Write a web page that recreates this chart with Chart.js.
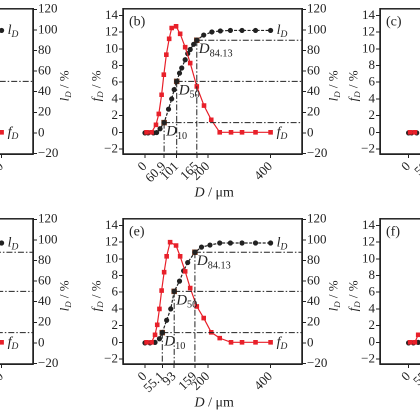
<!DOCTYPE html>
<html>
<head>
<meta charset="UTF-8" />
<script src="https://cdn.jsdelivr.net/npm/chart.js"></script>
<style>
  body { margin: 0; background: #fff; width: 420px; height: 420px; overflow: hidden; position: relative; }
  canvas { position: absolute; }
</style>
</head>
<body>
<script>
// panel (b)
const bFx = [5, 21, 35, 44, 53, 60, 68, 77, 85, 99, 112, 128, 144, 165, 188, 211, 238, 274, 309, 352, 400];
const bFy = [0, 0, 0.9, 2.2, 4.5, 6.9, 9.3, 11.2, 12.5, 12.7, 11.8, 10.2, 8.3, 5.5, 3.2, 1.5, 0, 0, 0, 0, 0];
const bLx = [0, 10, 27, 37, 48, 61, 75, 85, 93, 101, 110, 117, 128, 136, 144, 155, 165, 187, 213, 240, 272, 309, 352, 400];
const bLy = [0, 0, 0, 0.3, 4, 10, 23, 33, 42, 50, 58, 63, 71, 77, 81, 86, 90, 95, 98, 99, 99.5, 99.5, 99.5, 99.5];
const bMarkD = [60.9, 101, 165];
const bMarkL = [10, 50, 90];
const bTicks = [0, 60.9, 101, 165, 200, 400];

// panel (e)
const eFx = [5, 21, 32, 39, 46, 53, 61, 69, 80, 99, 112, 128, 144, 165, 187, 211, 238, 274, 309, 352, 400];
const eFy = [0, 0, 0.9, 2.1, 4, 6.2, 8.4, 10.3, 12, 11.6, 10.3, 8.5, 6.5, 4.3, 2.9, 1.2, 0.5, 0, 0, 0, 0];
const eLx = [0, 16, 32, 46, 55.1, 69, 82, 93, 110, 123, 136, 159, 180, 207, 238, 272, 309, 352, 400];
const eLy = [0, 0, 0.5, 4, 10, 22, 33, 50, 60, 70, 78, 88, 93, 95, 97, 97, 97, 97, 97];
const eMarkD = [55.1, 93, 159];
const eMarkL = [10, 50, 88];
const eTicks = [0, 55.1, 93, 159, 200, 400];

// partly visible panels
const cTicks = [0, 59];
const fTicks = [0, 55];
const yTicks = [-2, 0, 2, 4, 6, 8, 10, 12, 14];
const yRTicks = [-20, 0, 20, 40, 60, 80, 100, 120];

const LW = 45, RW = 50, TP = 8, FW = 179, FH = 146, BH = 56;
const SERIF = "'Liberation Serif', 'DejaVu Serif', serif";

function sub(ctx, x, y, main, s, size, italicSub) {
  ctx.font = 'italic ' + size + 'px ' + SERIF;
  ctx.fillText(main, x, y);
  const w = ctx.measureText(main).width;
  ctx.font = (italicSub ? 'italic ' : '') + (size * 0.68) + 'px ' + SERIF;
  ctx.fillText(s, x + w, y + size * 0.3);
  return w + ctx.measureText(s).width;
}

const textPlugin = {
  id: 'texts',
  afterDraw(chart) {
    const o = chart.options.plugins.texts;
    const ctx = chart.ctx, a = chart.chartArea;
    const x = chart.scales.x, yR = chart.scales.yR;
    ctx.save();
    ctx.strokeStyle = '#222';
    ctx.lineWidth = 1.5;
    ctx.strokeRect(a.left, a.top, a.right - a.left, a.bottom - a.top);
    ctx.fillStyle = '#222';
    ctx.textBaseline = 'middle';
    ctx.font = '14px ' + SERIF;
    ctx.textAlign = 'left';
    ctx.fillText(o.label, a.left + 6, a.top + 13);
    ctx.save();
    ctx.translate(a.left - 26, (a.top + a.bottom) / 2);
    ctx.rotate(-Math.PI / 2);
    const wf = sub(ctx, -20, 0, 'f', 'D', 13, true);
    ctx.font = '13px ' + SERIF;
    ctx.fillText(' / %', -20 + wf, 0);
    ctx.restore();
    ctx.save();
    ctx.translate(a.right + 32, (a.top + a.bottom) / 2);
    ctx.rotate(-Math.PI / 2);
    const wl = sub(ctx, -20, 0, 'l', 'D', 13, true);
    ctx.font = '13px ' + SERIF;
    ctx.fillText(' / %', -20 + wl, 0);
    ctx.restore();
    const cx = (a.left + a.right) / 2 - 18;
    const wd = sub(ctx, cx, a.bottom + 39, 'D', '', 14, true);
    ctx.font = '14px ' + SERIF;
    ctx.fillText(' / \u03bcm', cx + wd, a.bottom + 39);
    if (o.ends) {
      const ex = x.getPixelForValue(o.endX) + 6;
      sub(ctx, ex, yR.getPixelForValue(o.endL), 'l', 'D', 14, true);
      sub(ctx, ex, chart.scales.y.getPixelForValue(0), 'f', 'D', 14, true);
    }
    if (o.marks) {
      const names = ['10', '50', '84.13'];
      o.marks.forEach((d, i) => {
        const px = x.getPixelForValue(d) + 2, py = yR.getPixelForValue(o.markL[i]) + 9;
        sub(ctx, px, py, 'D', names[i], 15, false);
      });
    }
    ctx.restore();
  }
};

function pts(xs, ys) { return xs.map((v, i) => ({ x: v, y: ys[i] })); }

function makePanel(p) {
  const c = document.createElement('canvas');
  c.style.left = (p.left - LW) + 'px';
  c.style.top = (p.top - TP) + 'px';
  c.width = LW + FW + RW;
  c.height = TP + FH + BH;
  document.body.appendChild(c);
  const ds = [];
  const dash = [6, 2, 1.5, 2];
  (p.refD || []).forEach((d, i) => {
    const l = p.refL[i];
    ds.push({ data: [{ x: d, y: l }, { x: p.xmax, y: l }], yAxisID: 'yR', showLine: true, borderColor: '#222', borderWidth: 1, borderDash: dash, pointRadius: 0 });
    ds.push({ data: [{ x: d, y: l }, { x: d, y: -25 }], yAxisID: 'yR', showLine: true, borderColor: '#222', borderWidth: 1, borderDash: dash, pointRadius: 0 });
  });
  ds.push({ data: pts(p.fx, p.fy), yAxisID: 'y', showLine: true, borderColor: '#e8202a', backgroundColor: '#e8202a', borderWidth: 1.2, pointStyle: 'rect', pointRadius: 2.4 });
  ds.push({ data: pts(p.lx, p.ly), yAxisID: 'yR', showLine: true, borderColor: '#222', backgroundColor: '#222', borderWidth: 1.2, borderDash: [3, 1.5], pointRadius: 2 });
  if (p.marks) {
    ds.push({ data: pts(p.marks, p.markL), yAxisID: 'yR', showLine: false, pointStyle: 'rect', pointRadius: 3.2, backgroundColor: '#8bd13a', borderColor: '#7a3a20', borderWidth: 1 });
  }
  const tickFont = { family: SERIF, size: 13 };
  const axisBase = {
    grid: { drawOnChartArea: false, color: '#222', tickLength: 4 },
    border: { color: '#222', width: 1.5 },
    ticks: { color: '#222', font: tickFont, padding: 1, autoSkip: false }
  };
  const minus = v => v < 0 ? '\u2212' + (-v) : String(v);
  new Chart(c, {
    type: 'scatter',
    data: { datasets: ds },
    options: {
      responsive: false,
      devicePixelRatio: 2,
      animation: false,
      layout: { padding: { top: TP, left: 0, right: 0, bottom: 0 } },
      plugins: {
        legend: { display: false }, tooltip: { enabled: false },
        texts: { label: p.label, ends: p.ends, endX: 400, endL: p.ly[p.ly.length - 1], marks: p.marks, markL: p.markL }
      },
      scales: {
        x: Object.assign({}, axisBase, {
          type: 'linear', min: p.xmin, max: p.xmax,
          afterBuildTicks: s => { s.ticks = p.ticks.map(v => ({ value: v })); },
          afterFit: s => { s.height = BH; },
          ticks: Object.assign({}, axisBase.ticks, { minRotation: 45, maxRotation: 45, callback: v => String(v) })
        }),
        y: Object.assign({}, axisBase, {
          position: 'left', min: -2.6, max: 14.8,
          afterBuildTicks: s => { s.ticks = yTicks.map(v => ({ value: v })); },
          afterFit: s => { s.width = LW; },
          ticks: Object.assign({}, axisBase.ticks, { callback: minus })
        }),
        yR: Object.assign({}, axisBase, {
          position: 'right', min: -20.5, max: 120.5,
          afterBuildTicks: s => { s.ticks = yRTicks.map(v => ({ value: v })); },
          afterFit: s => { s.width = RW; },
          ticks: Object.assign({}, axisBase.ticks, { callback: minus })
        })
      }
    },
    plugins: [textPlugin]
  });
}

const rowTops = [8, 218];
makePanel({ label: '(a)', left: 33 - FW, top: rowTops[0], xmin: -70, xmax: 500, ticks: [0, 100, 200, 400], fx: bFx, fy: bFy, lx: bLx, ly: bLy, refD: [101], refL: [50], ends: true });
makePanel({ label: '(b)', left: 123, top: rowTops[0], xmin: -70, xmax: 500, ticks: bTicks, fx: bFx, fy: bFy, lx: bLx, ly: bLy, refD: bMarkD, refL: bMarkL, marks: bMarkD, markL: bMarkL, ends: true });
makePanel({ label: '(c)', left: 380, top: rowTops[0], xmin: -95, xmax: 500, ticks: cTicks, fx: bFx.slice(0, 2), fy: bFy.slice(0, 2), lx: bLx.slice(0, 3), ly: bLy.slice(0, 3), ends: false });
makePanel({ label: '(d)', left: 33 - FW, top: rowTops[1], xmin: -70, xmax: 500, ticks: [0, 100, 200, 400], fx: eFx, fy: eFy, lx: eLx, ly: eLy, refD: eMarkD, refL: eMarkL, ends: true });
makePanel({ label: '(e)', left: 123, top: rowTops[1], xmin: -70, xmax: 500, ticks: eTicks, fx: eFx, fy: eFy, lx: eLx, ly: eLy, refD: eMarkD, refL: eMarkL, marks: eMarkD, markL: eMarkL, ends: true });
makePanel({ label: '(f)', left: 380, top: rowTops[1], xmin: -95, xmax: 500, ticks: fTicks, fx: eFx.slice(0, 3), fy: eFy.slice(0, 3), lx: eLx.slice(0, 3), ly: eLy.slice(0, 3), ends: false });
</script>
</body>
</html>
